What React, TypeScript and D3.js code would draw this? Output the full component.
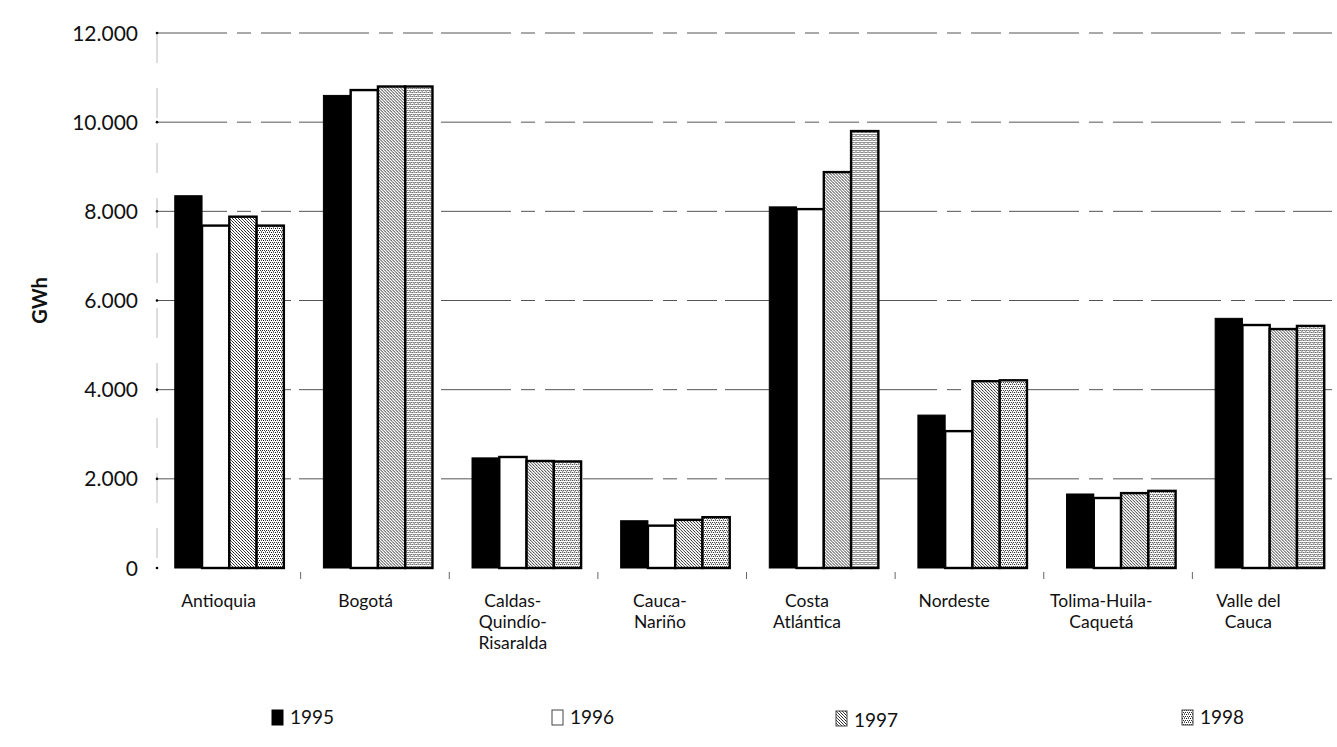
import * as d3 from 'd3';

const categories = [
  ['Antioquia'],
  ['Bogotá'],
  ['Caldas-', 'Quindío-', 'Risaralda'],
  ['Cauca-', 'Nariño'],
  ['Costa', 'Atlántica'],
  ['Nordeste'],
  ['Tolima-Huila-', 'Caquetá'],
  ['Valle del', 'Cauca'],
];
const years = ['1995', '1996', '1997', '1998'];
const v1995 = [8350, 10600, 2470, 1060, 8100, 3430, 1660, 5600];
const v1996 = [7680, 10720, 2490, 950, 8050, 3070, 1570, 5450];
const v1997 = [7880, 10800, 2400, 1080, 8880, 4190, 1680, 5360];
const v1998 = [7680, 10800, 2390, 1140, 9800, 4210, 1730, 5430];
const yTicks = [0, 2000, 4000, 6000, 8000, 10000, 12000];

const series = [v1995, v1996, v1997, v1998];
const fills = ['#000', '#fff', 'url(#p1997)', 'url(#p1998)'];
const FONT = 'Lato, "Open Sans", sans-serif';

export default function App() {
  const width = 1337;
  const height = 747;
  const x = d3.scaleBand<number>().domain(d3.range(categories.length)).range([155, 1344]);
  const bw = x.bandwidth();
  const xi = d3.scaleBand<number>().domain(d3.range(years.length)).range([bw * 0.133, bw * 0.867]);
  // labels sit a little left of the bar groups in the original
  const xl = d3.scaleBand<number>().domain(d3.range(categories.length)).range([145, 1322]);
  const y = d3.scaleLinear().domain([0, 12000]).range([568, 33]);
  const fmt = (d: number) => d3.format(',')(d).replace(/,/g, '.');
  const legendX = [272, 552, 836, 1182];

  return (
    <svg width={width} height={height} style={{ position: 'absolute', left: 0, top: 0, background: '#fff' }}>
      <defs>
        <pattern id="p1997" width="3" height="3" patternUnits="userSpaceOnUse">
          <rect width="3" height="3" fill="#fff" />
          <rect width="1" height="1" fill="#222" />
          <rect x="1" y="1" width="1" height="1" fill="#555" />
          <rect x="2" y="2" width="1" height="1" fill="#333" />
        </pattern>
        <pattern id="p1998" width="4" height="4" patternUnits="userSpaceOnUse">
          <rect width="4" height="4" fill="#fff" />
          <rect width="1" height="1" fill="#111" />
          <rect x="2" y="0" width="1" height="1" fill="#555" />
          <rect x="1" y="2" width="1" height="1" fill="#333" />
          <rect x="3" y="2" width="1" height="1" fill="#222" />
          <rect x="2" y="3" width="1" height="1" fill="#777" />
        </pattern>
      </defs>

      {/* grid */}
      {yTicks.filter(t => t > 0).map(t => (
        <line key={t} x1={157} x2={1332} y1={y(t)} y2={y(t)}
          stroke="#555" strokeWidth={1} strokeDasharray="70 10 14 10 30 8" />
      ))}
      <line x1={157} x2={157} y1={y(12000)} y2={y(0)} stroke="#bbb" strokeWidth={1} strokeDasharray="30 25" />

      {/* y labels */}
      {yTicks.map(t => (
        <g key={t}>
          <circle cx={157} cy={y(t)} r={1.3} fill="#000" />
          <text x={138} y={y(t)} dy="0.36em" textAnchor="end" fontFamily={FONT} fontSize={21} fill="#111">{fmt(t)}</text>
        </g>
      ))}
      <text transform={`translate(47,${y(6000)}) rotate(-90)`} textAnchor="middle" fontFamily={FONT}
        fontWeight="bold" fontSize={20} fill="#111">GWh</text>

      {/* band ticks */}
      {d3.range(1, categories.length).map(i => (
        <line key={i} x1={x(i)! - 3} x2={x(i)! - 3} y1={y(0) + 4} y2={y(0) + 11} stroke="#666" strokeWidth={1} />
      ))}

      {/* bars */}
      {categories.map((_, ci) => (
        <g key={ci} transform={`translate(${x(ci)},0)`}>
          {series.map((s, si) => (
            <rect key={si} x={xi(si)} y={y(s[ci])} width={xi.bandwidth()} height={y(0) - y(s[ci])}
              fill={fills[si]} stroke="#000" strokeWidth={si === 0 ? 1 : 2.4} />
          ))}
        </g>
      ))}

      {/* category labels */}
      {categories.map((lines, ci) => (
        <text key={ci} x={xl(ci)! + xl.bandwidth() / 2} y={607} textAnchor="middle" fontFamily={FONT} fontSize={17.5} fill="#111">
          {lines.map((l, li) => (
            <tspan key={li} x={xl(ci)! + xl.bandwidth() / 2} dy={li === 0 ? 0 : 21}>{l}</tspan>
          ))}
        </text>
      ))}

      {/* legend */}
      {years.map((yr, i) => (
        <g key={yr} transform={`translate(${legendX[i]},${i === 2 ? 711 : 710})`}>
          <rect x={0} y={0} width={11} height={15} fill={fills[i]} stroke={i === 0 ? '#000' : '#444'} strokeWidth={1} />
          <text x={18} y={i === 2 ? 16 : 14} fontFamily={FONT} fontSize={19} fill="#111">{yr}</text>
        </g>
      ))}
    </svg>
  );
}
